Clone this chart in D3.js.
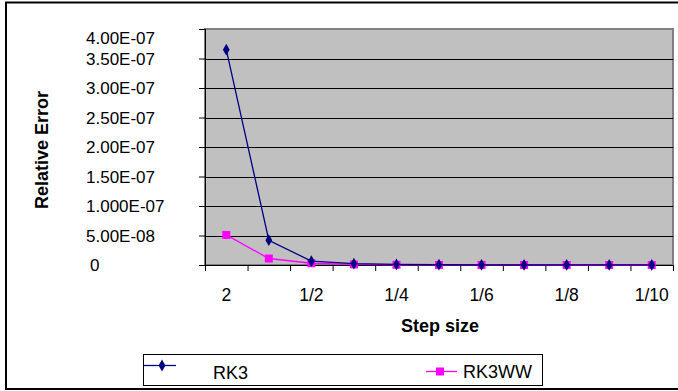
<!DOCTYPE html>
<html>
<head>
<meta charset="utf-8">
<script src="https://cdn.jsdelivr.net/npm/d3@7"></script>
<style>
  html, body { margin: 0; padding: 0; background: #fff; }
  svg { display: block; font-family: "Liberation Sans", Arial, sans-serif; }
</style>
</head>
<body>
<svg id="chart" width="678" height="391"></svg>
<script>
// ---- data ----
const categories = ["2", "1", "1/2", "1/3", "1/4", "1/5", "1/6", "1/7", "1/8", "1/9", "1/10"];
const rk3Values = [3.65e-7, 4.2e-8, 6.5e-9, 2.3e-9, 1.0e-9, 5e-10, 3e-10, 2e-10, 1.2e-10, 8e-11, 5e-11];
const rk3wwValues = [5.1e-8, 1.1e-8, 3.0e-9, 1.0e-9, 4e-10, 2e-10, 1e-10, 6e-11, 4e-11, 3e-11, 2e-11];
const yTickValues = [0, 5e-8, 1e-7, 1.5e-7, 2e-7, 2.5e-7, 3e-7, 3.5e-7, 4e-7];
const yTickLabels = ["0", "5.00E-08", "1.000E-07", "1.50E-07", "2.00E-07", "2.50E-07", "3.00E-07", "3.50E-07", "4.00E-07"];
const seriesNames = ["RK3", "RK3WW"];

const svg = d3.select("#chart");
const plot = { left: 205, right: 673, top: 29, bottom: 265 };

const x = d3.scaleBand().domain(categories).range([plot.left, plot.right]).padding(0);
const xEdge = d3.scaleLinear().domain([0, categories.length]).range([plot.left, plot.right]);
const y = d3.scaleLinear().domain([0, 4e-7]).range([plot.bottom, plot.top]);

// outer frame
svg.append("rect").attr("x", 6).attr("y", 2.5).attr("width", 700).attr("height", 386.5)
  .attr("fill", "none").attr("stroke", "#000").attr("stroke-width", 2);

// plot area
svg.append("rect").attr("x", plot.left).attr("y", plot.top)
  .attr("width", plot.right - plot.left).attr("height", plot.bottom - plot.top)
  .attr("fill", "#c0c0c0").attr("stroke", "#808080").attr("stroke-width", 2);

// gridlines
svg.append("g").selectAll("line").data(yTickValues.filter(v => v > 0 && v < 4e-7)).join("line")
  .attr("x1", plot.left).attr("x2", plot.right)
  .attr("y1", d => Math.round(y(d)) + 0.5).attr("y2", d => Math.round(y(d)) + 0.5)
  .attr("stroke", "#000").attr("stroke-width", 1);

// y axis
const yAxis = svg.append("g").attr("transform", `translate(${plot.left},0)`)
  .call(d3.axisLeft(y).tickValues(yTickValues).tickSize(6).tickPadding(0)
    .tickFormat((d, i) => yTickLabels[i]));
yAxis.select(".domain").attr("stroke", "#000").attr("d", `M0.5,${plot.top}V${plot.bottom + 6}`);
yAxis.selectAll(".tick line").attr("stroke", "#000");
yAxis.selectAll(".tick text")
  .attr("text-anchor", "start")
  .attr("x", (d, i) => (i === 0 ? 90 : 86) - plot.left)
  .attr("dy", (d, i) => i === yTickValues.length - 1 ? "0.85em" : "0.35em")
  .attr("fill", "#000")
  .style("font-size", "17px");

// x axis: boundary ticks
const xAxisTicks = svg.append("g").attr("transform", `translate(0,${plot.bottom})`)
  .call(d3.axisBottom(xEdge).tickValues(d3.range(categories.length + 1))
    .tickSize(6).tickFormat(""));
xAxisTicks.select(".domain").attr("stroke", "#000").attr("d", `M${plot.left},0.5H${plot.right}`);
xAxisTicks.selectAll(".tick line").attr("stroke", "#000");

// x axis labels (every other category)
const xAxisLabels = svg.append("g").attr("transform", `translate(0,${plot.bottom})`)
  .call(d3.axisBottom(x).tickSize(0).tickPadding(24)
    .tickFormat((d, i) => i % 2 === 0 ? d : ""));
xAxisLabels.select(".domain").remove();
xAxisLabels.selectAll(".tick text").attr("fill", "#000").style("font-size", "17.5px");

// series
const px = (d, i) => x(categories[i]) + x.bandwidth() / 2;
const line = d3.line().x(px).y(d => y(d));

svg.append("path").datum(rk3wwValues).attr("d", line)
  .attr("fill", "none").attr("stroke", "#ff00ff").attr("stroke-width", 1.3);
svg.append("g").selectAll("rect").data(rk3wwValues).join("rect")
  .attr("x", (d, i) => px(d, i) - 4).attr("y", d => y(d) - 4)
  .attr("width", 8).attr("height", 8).attr("fill", "#ff00ff");

svg.append("path").datum(rk3Values).attr("d", line)
  .attr("fill", "none").attr("stroke", "#000080").attr("stroke-width", 1.3);
const diamond = d3.symbol().type(d3.symbolDiamond).size(40);
svg.append("g").selectAll("path").data(rk3Values).join("path")
  .attr("transform", (d, i) => `translate(${px(d, i)},${y(d)})`)
  .attr("d", diamond).attr("fill", "#000080");

// axis titles
svg.append("text").attr("transform", "translate(48,150) rotate(-90)")
  .attr("text-anchor", "middle").style("font-size", "18px").style("font-weight", "bold")
  .text("Relative Error");
svg.append("text").attr("x", 440).attr("y", 332)
  .attr("text-anchor", "middle").style("font-size", "18px").style("font-weight", "bold")
  .text("Step size");

// legend
const lg = svg.append("g");
lg.append("rect").attr("x", 143.5).attr("y", 354.5).attr("width", 399).attr("height", 31)
  .attr("fill", "#fff").attr("stroke", "#000").attr("stroke-width", 1);
// RK3
lg.append("line").attr("x1", 144).attr("x2", 176).attr("y1", 365.5).attr("y2", 365.5)
  .attr("stroke", "#000080").attr("stroke-width", 1.3);
lg.append("path").attr("transform", "translate(162,365.5)").attr("d", diamond).attr("fill", "#000080");
lg.append("text").attr("x", 213).attr("y", 379).style("font-size", "18px").text(seriesNames[0]);
// RK3WW
lg.append("line").attr("x1", 426).attr("x2", 457).attr("y1", 371.5).attr("y2", 371.5)
  .attr("stroke", "#ff00ff").attr("stroke-width", 1.3);
lg.append("rect").attr("x", 436).attr("y", 367.5).attr("width", 8).attr("height", 8).attr("fill", "#ff00ff");
lg.append("text").attr("x", 463).attr("y", 378).style("font-size", "18px").text(seriesNames[1]);
</script>
</body>
</html>
